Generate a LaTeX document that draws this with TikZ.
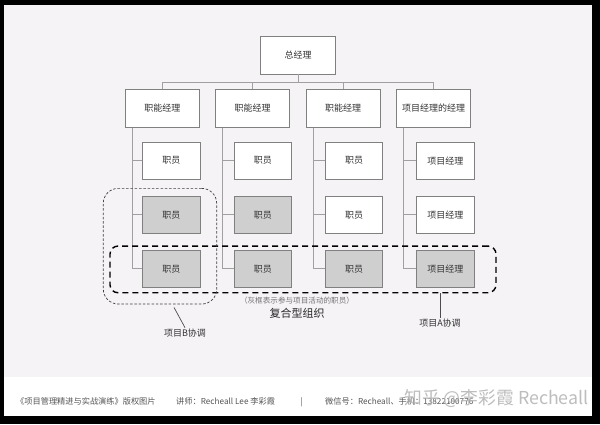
\documentclass[tikz,border=0pt]{standalone}
\usepackage{fontspec}
\newfontfamily\cjk{Noto Sans CJK SC}
\usepackage{tikz}
\usetikzlibrary{matrix}

\definecolor{pagebg}{HTML}{F6F3F6}
\definecolor{boxline}{HTML}{808080}
\definecolor{staffgray}{HTML}{CFCFCF}
\definecolor{linkgray}{HTML}{A0A0A0}
\definecolor{txtgray}{HTML}{333333}
\definecolor{footgray}{HTML}{555555}

\begin{document}
\begin{tikzpicture}[x=1pt, y=-1pt,
  boss/.style={rectangle, draw=boxline, fill=white, line width=0.9pt,
    minimum width=74.6pt, minimum height=37.3pt, inner sep=1pt,
    font=\cjk\fontsize{9}{10}\selectfont, text=txtgray},
  %
  manager/.style={boss, minimum width=74pt, minimum height=38pt},
  %
  staff/.style={boss, minimum width=57.6pt, minimum height=37pt},
  %
  member/.style={staff, fill=staffgray},
  %
  link/.style={draw=linkgray, line width=0.9pt},
  %
  label/.style={font=\cjk\fontsize{9}{10}\selectfont, text=txtgray, inner sep=1pt},
  %
  foot/.style={anchor=west, font=\cjk\fontsize{8.2}{9}\selectfont, text=footgray, inner sep=0pt}
  ]

  \useasboundingbox (0,0) rectangle (600,424);
  \fill [black] (0,0) rectangle (600,424);
  \fill [pagebg] (4,5) rectangle (592,377);
  \fill [white] (4,377) rectangle (592,416);

  \begin{scope}
    \node [boss] (top) at (298,55.3) {总经理};
    \node [manager] (fm1) at (162.3,108.3) {职能经理};
    \node [manager] (fm2) at (252.7,108.3) {职能经理};
    \node [manager] (fm3) at (343,108.3) {职能经理};
    \node [manager] (pmm) at (433.7,108.3) {项目经理的经理};

    \matrix [column sep=32.8pt, row sep=16.2pt, inner sep=0pt] (staff) at (308.4,214.8) {
      %%%%%%%%%%%%%%%%%%%%%%%%%%%%%%%
      \node [staff] (s11) {职员}; &
      \node [staff] (s21) {职员}; &
      \node [staff] (s31) {职员}; &
      \node [staff] (pm1) {项目经理}; \\
      %%%%%%%%%%%%%%%%%%%%%%%%%%%%%%%
      \node [member] (s12) {职员}; &
      \node [member] (s22) {职员}; &
      \node [staff] (s32) {职员}; &
      \node [staff] (pm2) {项目经理}; \\
      %%%%%%%%%%%%%%%%%%%%%%%%%%%%%%%
      \node [member] (s13) {职员}; &
      \node [member] (s23) {职员}; &
      \node [member] (s33) {职员}; &
      \node [member] (pm3) {项目经理}; \\
    };
  \end{scope}

  \begin{scope}
    \draw [link] (top.south) -- ++(0,7.7) -| (fm1.north);
    \draw [link] (top.south) -- ++(0,7.7) -| (fm2.north);
    \draw [link] (top.south) -- ++(0,7.7) -| (fm3.north);
    \draw [link] (top.south) -- ++(0,7.7) -| (pmm.north);
    %
    \draw [link] (fm1.south west) ++(7.4,0) |- (s11.west);
    \draw [link] (fm1.south west) ++(7.4,0) |- (s12.west);
    \draw [link] (fm1.south west) ++(7.4,0) |- (s13.west);
    \draw [link] (fm2.south west) ++(7.4,0) |- (s21.west);
    \draw [link] (fm2.south west) ++(7.4,0) |- (s22.west);
    \draw [link] (fm2.south west) ++(7.4,0) |- (s23.west);
    \draw [link] (fm3.south west) ++(7.4,0) |- (s31.west);
    \draw [link] (fm3.south west) ++(7.4,0) |- (s32.west);
    \draw [link] (fm3.south west) ++(7.4,0) |- (s33.west);
    \draw [link] (pmm.south west) ++(7.4,0) |- (pm1.west);
    \draw [link] (pmm.south west) ++(7.4,0) |- (pm2.west);
    \draw [link] (pmm.south west) ++(7.4,0) |- (pm3.west);
  \end{scope}

  \begin{scope}
    \node [draw=black, line width=1.4pt, dash pattern=on 6pt off 4pt,
      rounded corners=8pt, minimum width=386pt, minimum height=46.7pt]
      (projA) at (303,269.4) {};
    \node [draw=black!75, line width=0.7pt, dash pattern=on 2.5pt off 1.8pt,
      rounded corners=15pt, minimum width=113.4pt, minimum height=115.7pt]
      (projB) at (160,246.2) {};

    \node [label, font=\cjk\fontsize{7.6}{8}\selectfont, text=black!55]
      (hint) at (297,300.7) {（灰框表示参与项目活动的职员）};
    \node [label, font=\cjk\fontsize{11}{12}\selectfont, text=black!85]
      (title) at (297,313) {复合型组织};
    \node [label] (coordA) at (440,323) {项目A协调};
    \node [label] (coordB) at (185,333) {项目B协调};

    \draw [draw=black!70, line width=0.8pt] (coordA.north) -- (coordA.north |- projA.south);
    \draw [draw=black!70, line width=0.7pt] (projB.south) ++(14,3) -- (coordB.north);
  \end{scope}

  % footer
  \node [foot] (book) at (16,401.7) {《项目管理精进与实战演练》版权图片};
  \node [foot] (teacher) at (176,401.7) {讲师：Recheall Lee 李彩霞};
  \node [foot] (bar) at (300.5,401.7) {|};
  \node [foot] (wechat) at (325,401.7) {微信号：Recheall、手机：13822100776};
  \node [anchor=west, inner sep=0pt, font=\cjk\fontsize{17.8}{19}\selectfont,
    text=black!30, opacity=0.85] (mark) at (404,399) {知乎 @李彩霞 Recheall};

\end{tikzpicture}
\end{document}
